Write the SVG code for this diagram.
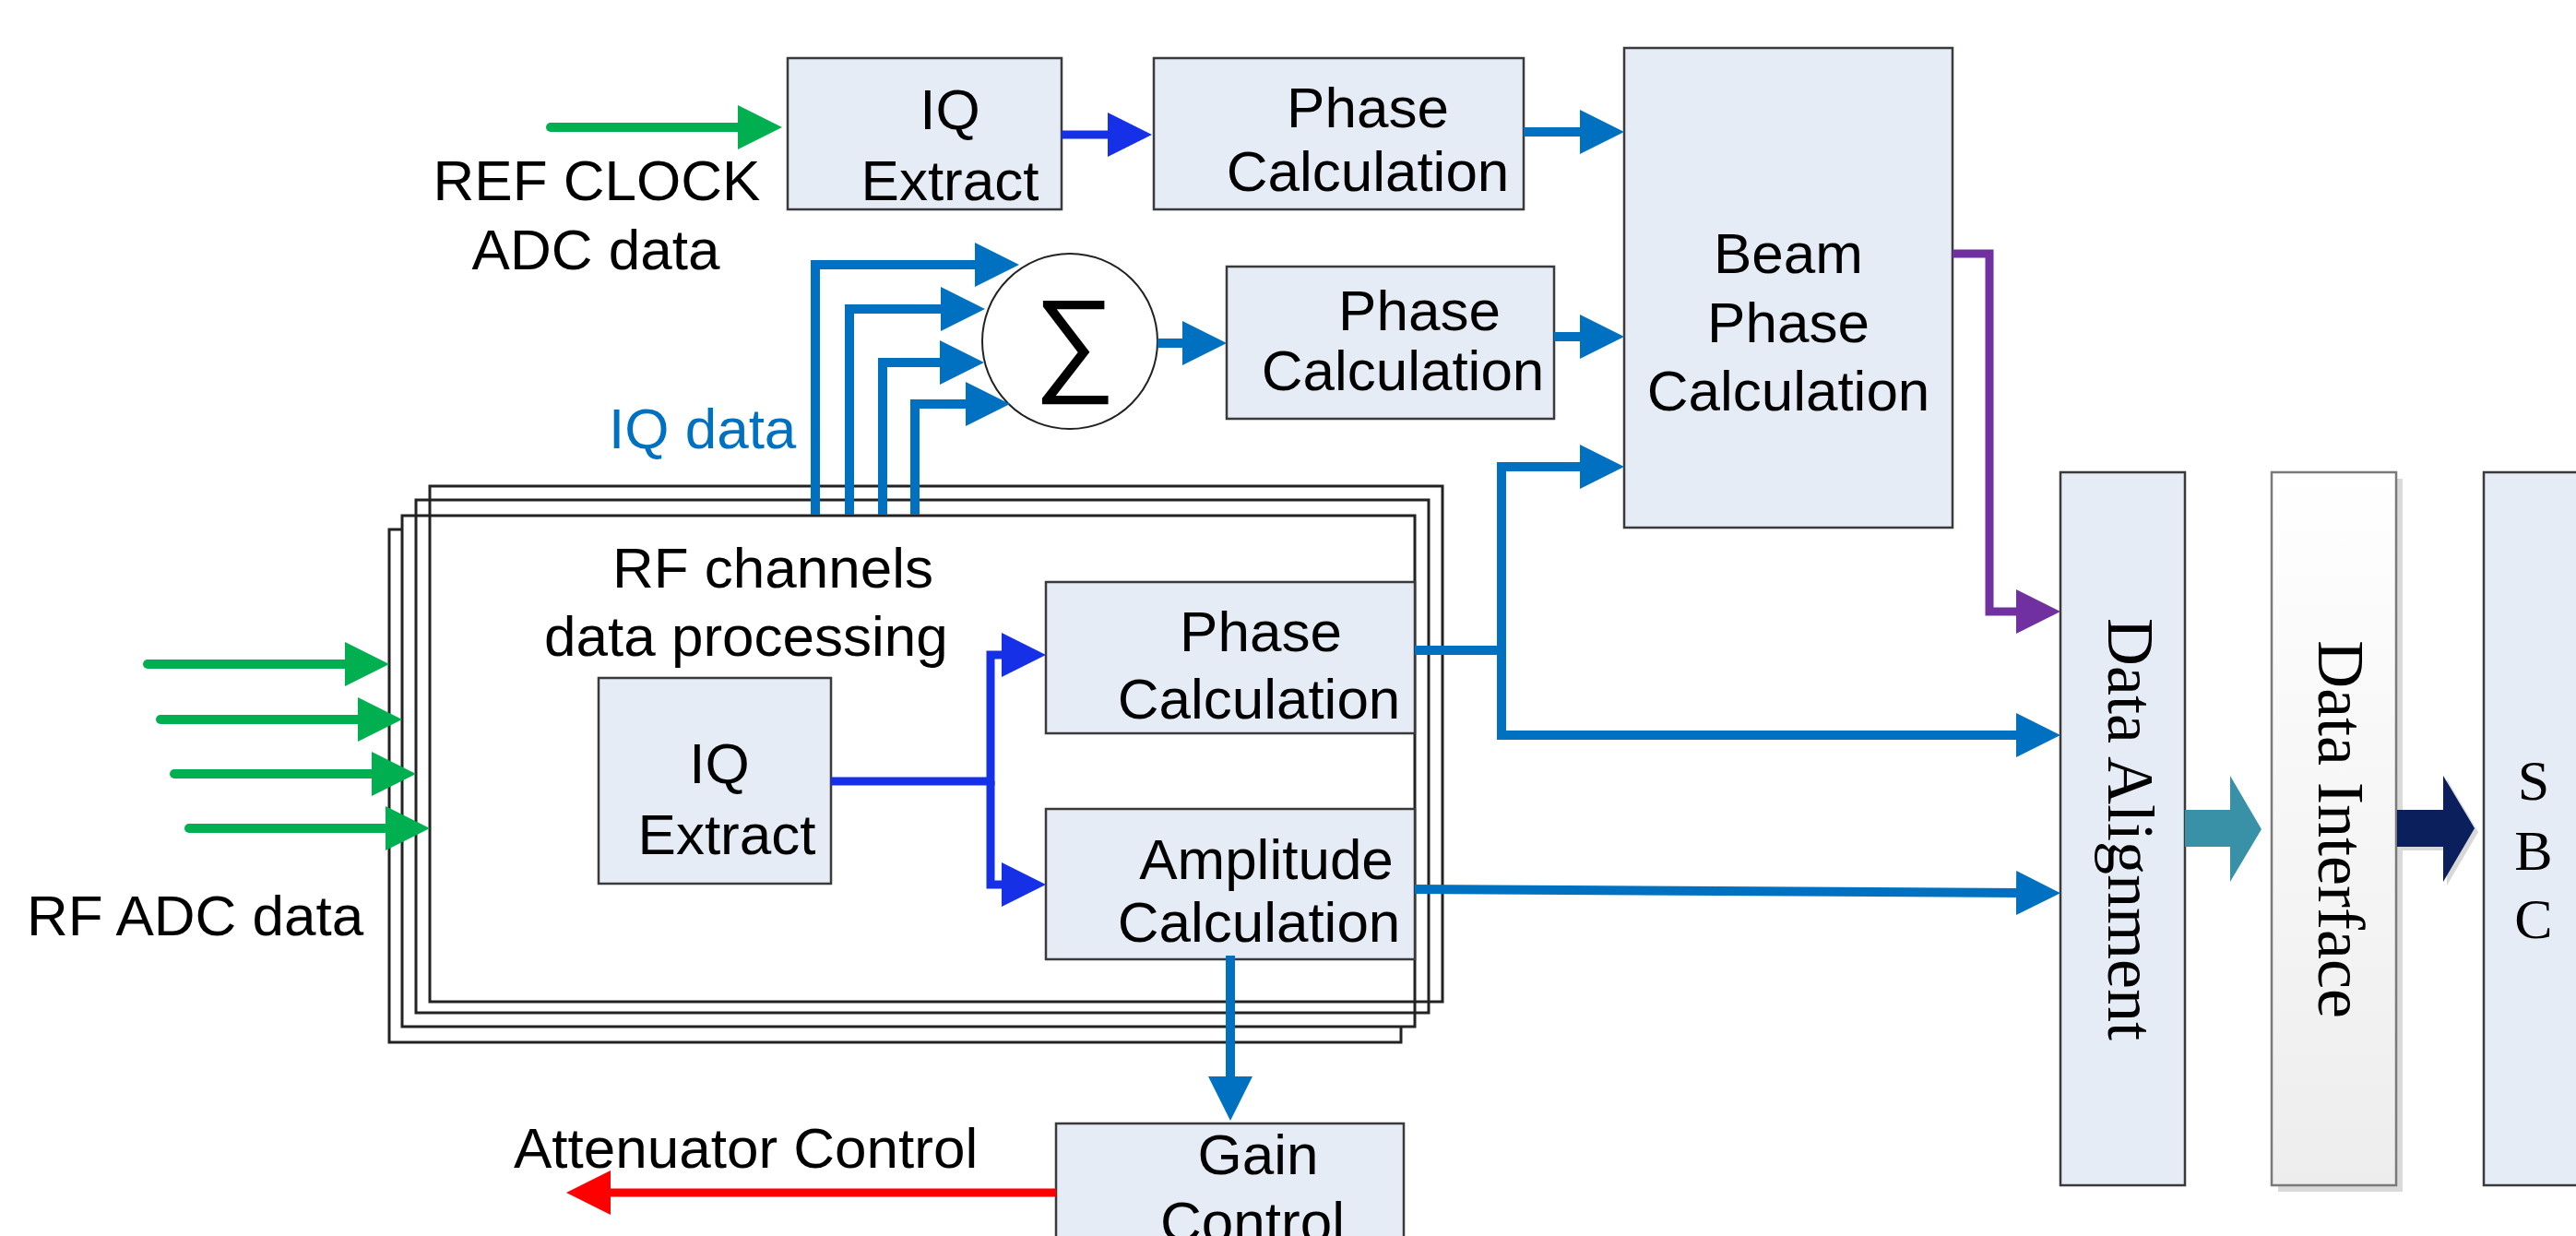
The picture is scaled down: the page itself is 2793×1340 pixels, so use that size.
<svg xmlns="http://www.w3.org/2000/svg" width="2793" height="1340" viewBox="0 0 2793 1340">
<style>
.t{font-family:"Liberation Sans",Arial,sans-serif;font-size:62px;fill:#000}
.m{text-anchor:middle}
.s{font-family:"Liberation Serif","Times New Roman",serif;font-size:72px;fill:#000;text-anchor:middle}
.box{fill:#E6ECF6;stroke:#3a3a3a;stroke-width:2.5}
.stk{fill:none;stroke:#222;stroke-width:3}
.stkw{fill:#fff;stroke:#222;stroke-width:3}
.ln{fill:none;stroke-width:10;stroke-linejoin:miter}
.g{stroke:#00B050;stroke-linecap:round}
.b{stroke:#0070C0}
.db{stroke:#1530E6;stroke-width:9}
.p{stroke:#7030A0;stroke-width:9}
.r{stroke:#FF0000;stroke-width:9}
</style>
<defs>
<marker id="hG" markerUnits="userSpaceOnUse" markerWidth="48" markerHeight="48" viewBox="0 0 48 48" refX="6" refY="24" orient="auto"><path d="M0,0 L48,24 L0,48 Z" fill="#00B050"/></marker>
<marker id="hB" markerUnits="userSpaceOnUse" markerWidth="48" markerHeight="48" viewBox="0 0 48 48" refX="6" refY="24" orient="auto"><path d="M0,0 L48,24 L0,48 Z" fill="#0070C0"/></marker>
<marker id="hD" markerUnits="userSpaceOnUse" markerWidth="48" markerHeight="48" viewBox="0 0 48 48" refX="6" refY="24" orient="auto"><path d="M0,0 L48,24 L0,48 Z" fill="#1530E6"/></marker>
<marker id="hP" markerUnits="userSpaceOnUse" markerWidth="48" markerHeight="48" viewBox="0 0 48 48" refX="6" refY="24" orient="auto"><path d="M0,0 L48,24 L0,48 Z" fill="#7030A0"/></marker>
<marker id="hR" markerUnits="userSpaceOnUse" markerWidth="48" markerHeight="48" viewBox="0 0 48 48" refX="6" refY="24" orient="auto"><path d="M0,0 L48,24 L0,48 Z" fill="#FF0000"/></marker>
<linearGradient id="gDI" x1="0" y1="0" x2="0" y2="1"><stop offset="0" stop-color="#FFFFFF"/><stop offset="1" stop-color="#EDEDED"/></linearGradient>
</defs>
<rect width="2793" height="1340" fill="#fff"/>

<g id="rf-stack">
<rect class="stkw" x="422" y="574" width="1097" height="556"/>
<rect class="stkw" x="436" y="559" width="1098" height="554"/>
<rect class="stk" x="451" y="542" width="1098" height="556"/>
<rect class="stk" x="466" y="527" width="1098" height="559"/>
<text class="t" x="664" y="637">RF channels</text>
<text class="t" x="590" y="711">data processing</text>
</g>

<g id="labels">
<text class="t m" x="647" y="217">REF CLOCK</text>
<text class="t m" x="646" y="292">ADC data</text>
<text class="t" x="660" y="486" style="fill:#0070C0">IQ data</text>
<text class="t" x="29" y="1014">RF ADC data</text>
<text class="t" x="557" y="1266">Attenuator Control</text>
</g>

<g id="iq-extract-ref">
<rect class="box" x="854" y="63" width="297" height="164"/>
<text class="t m" x="1030" y="140">IQ</text>
<text class="t m" x="1030" y="217">Extract</text>
</g>

<g id="phase-calc-ref">
<rect class="box" x="1251" y="63" width="401" height="164"/>
<text class="t m" x="1483" y="138">Phase</text>
<text class="t m" x="1483" y="207">Calculation</text>
</g>

<g id="beam-phase">
<rect class="box" x="1761" y="52" width="356" height="520"/>
<text class="t m" x="1939" y="296">Beam</text>
<text class="t m" x="1939" y="371">Phase</text>
<text class="t m" x="1939" y="445">Calculation</text>
</g>

<g id="sum">
<circle cx="1160" cy="370" r="95" fill="#fff" stroke="#222" stroke-width="2"/>
<text x="1165" y="412" text-anchor="middle" style="font-family:'Liberation Sans',Arial,sans-serif;font-size:125px;fill:#000">∑</text>
</g>

<g id="phase-calc-sum">
<rect class="box" x="1330" y="289" width="355" height="165"/>
<text class="t m" x="1539" y="358">Phase</text>
<text class="t m" x="1521" y="423">Calculation</text>
</g>

<g id="iq-extract-rf">
<rect class="box" x="649" y="735" width="252" height="223"/>
<text class="t m" x="780" y="849">IQ</text>
<text class="t m" x="788" y="926">Extract</text>
</g>

<g id="phase-calc-rf">
<rect class="box" x="1134" y="631" width="400" height="164"/>
<text class="t m" x="1367" y="706">Phase</text>
<text class="t m" x="1365" y="779">Calculation</text>
</g>

<g id="amplitude-calc">
<rect class="box" x="1134" y="877" width="400" height="163"/>
<text class="t m" x="1373" y="953">Amplitude</text>
<text class="t m" x="1365" y="1021">Calculation</text>
</g>

<g id="gain-control">
<rect class="box" x="1145" y="1218" width="377" height="200"/>
<text class="t m" x="1364" y="1273">Gain</text>
<text class="t m" x="1358" y="1346">Control</text>
</g>

<g id="data-alignment">
<rect class="box" x="2234" y="512" width="135" height="773"/>
<text class="s" transform="translate(2286,899) rotate(90)">Data Alignment</text>
</g>

<g id="data-interface">
<rect x="2470" y="519" width="135" height="773" fill="#DADADA"/>
<rect x="2463" y="512" width="135" height="773" fill="url(#gDI)" stroke="#7a7a7a" stroke-width="2.5"/>
<text class="s" transform="translate(2514,899) rotate(90)">Data Interface</text>
</g>

<g id="sbc">
<rect class="box" x="2693" y="512" width="130" height="773"/>
<text class="s" x="2747" y="867" style="font-size:62px">S</text>
<text class="s" x="2747" y="943" style="font-size:62px">B</text>
<text class="s" x="2747" y="1017" style="font-size:62px">C</text>
</g>

<g id="connectors">
<path class="ln g" d="M597,138 H806" marker-end="url(#hG)"/>
<path class="ln g" d="M160,720 H380" marker-end="url(#hG)"/>
<path class="ln g" d="M174,780 H394" marker-end="url(#hG)"/>
<path class="ln g" d="M189,839 H409" marker-end="url(#hG)"/>
<path class="ln g" d="M205,898 H424" marker-end="url(#hG)"/>
<path class="ln db" d="M1151,146 H1207" marker-end="url(#hD)"/>
<path class="ln b" d="M1652,143 H1719" marker-end="url(#hB)"/>
<path class="ln b" d="M884,558 V287 H1063" marker-end="url(#hB)"/>
<path class="ln b" d="M921,558 V335 H1026" marker-end="url(#hB)"/>
<path class="ln b" d="M957,558 V393 H1025" marker-end="url(#hB)"/>
<path class="ln b" d="M992,558 V438 H1053" marker-end="url(#hB)"/>
<path class="ln b" d="M1255,372 H1288" marker-end="url(#hB)"/>
<path class="ln b" d="M1685,365 H1719" marker-end="url(#hB)"/>
<path class="ln db" d="M901,847 H1074 V710 H1092" marker-end="url(#hD)"/>
<path class="ln db" d="M1074,847 V959 H1092" marker-end="url(#hD)"/>
<path class="ln b" d="M1534,705 H1628"/>
<path class="ln b" d="M1628,506 H1719" marker-end="url(#hB)"/>
<path class="ln b" d="M1628,501 V797 H2192" marker-end="url(#hB)"/>
<path class="ln b" d="M1534,964 L2192,968" marker-end="url(#hB)"/>
<path class="ln b" d="M1334,1036 V1173" marker-end="url(#hB)"/>
<path class="ln r" d="M1145,1293 H656" marker-end="url(#hR)"/>
<path class="ln p" d="M2117,275 H2157 V663 H2192" marker-end="url(#hP)"/>
<polygon points="2369,878 2418,878 2418,841 2452,899 2418,956 2418,918 2369,918" fill="#3891A6"/>
<polygon points="2603,882 2653,882 2653,845 2687,902 2653,960 2653,922 2603,922" fill="#D8D8D8"/>
<polygon points="2599,878 2649,878 2649,841 2683,898 2649,956 2649,918 2599,918" fill="#0B1F5C"/>
</g>
</svg>
